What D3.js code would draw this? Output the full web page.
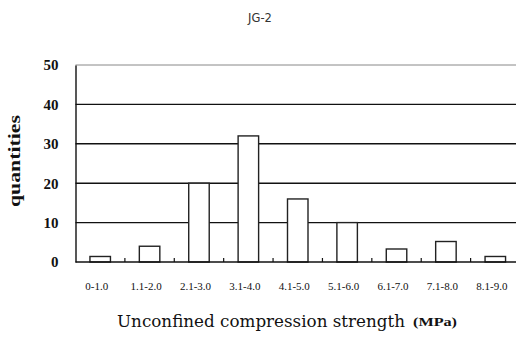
<!DOCTYPE html>
<html>
<head>
<meta charset="utf-8">
<script src="https://cdn.jsdelivr.net/npm/d3@7"></script>
<style>
  html, body { margin: 0; padding: 0; background: #fff; }
  svg { display: block; }
</style>
</head>
<body>
<svg id="chart" width="516" height="338"></svg>
<script>
// Strength classes (MPa) and number of specimens in each
const categories = ["0-1.0", "1.1-2.0", "2.1-3.0", "3.1-4.0", "4.1-5.0", "5.1-6.0", "6.1-7.0", "7.1-8.0", "8.1-9.0"];
const quantities = [1.4, 4, 20, 32, 16, 10, 3.3, 5.2, 1.4];
const yTicks = [0, 10, 20, 30, 40, 50];

const svg = d3.select("#chart");
const plotLeft = 75.5, plotRight = 520, plotTop = 65, plotBottom = 262;

const x = d3.scaleBand().domain(categories).range([plotLeft, plotRight])
  .paddingInner(0.585).paddingOuter(0.2925);
const y = d3.scaleLinear().domain([0, 50]).range([plotBottom, plotTop]);

// Title
svg.append("text")
  .attr("x", 260).attr("y", 22)
  .attr("text-anchor", "middle")
  .attr("font-family", "DejaVu Sans, sans-serif")
  .attr("font-size", 11.5)
  .attr("fill", "#333")
  .text("JG-2");

// Horizontal gridlines
svg.append("g").selectAll("line")
  .data(yTicks.filter(d => d > 0))
  .join("line")
  .attr("x1", plotLeft).attr("x2", 516)
  .attr("y1", d => y(d)).attr("y2", d => y(d))
  .attr("stroke", d => d === 50 ? "#888" : "#111")
  .attr("stroke-width", d => d === 50 ? 1 : 1.4);

// Bars
svg.append("g").selectAll("rect")
  .data(quantities)
  .join("rect")
  .attr("x", (d, i) => x(categories[i]))
  .attr("y", d => y(d))
  .attr("width", x.bandwidth())
  .attr("height", d => y(0) - y(d))
  .attr("fill", "#fff")
  .attr("stroke", "#222")
  .attr("stroke-width", 1.4);

// Y axis
const yAxis = d3.axisLeft(y).tickValues(yTicks).tickSize(0).tickPadding(0).tickFormat(d3.format("d"));
const gy = svg.append("g").attr("transform", `translate(${plotLeft},0)`).call(yAxis);
gy.select(".domain").attr("stroke", "#111").attr("stroke-width", 1.4);
gy.selectAll("text")
  .attr("x", -17)
  .attr("font-family", "Liberation Serif, serif")
  .attr("font-weight", "bold")
  .attr("font-size", 15)
  .attr("fill", "#111");

// X axis with short inward ticks at class boundaries
const gx = svg.append("g").attr("transform", `translate(0,${plotBottom})`);
gx.append("line").attr("x1", plotLeft).attr("x2", 516).attr("y1", 0).attr("y2", 0)
  .attr("stroke", "#111").attr("stroke-width", 1.4);
const step = x.step();
gx.selectAll("line.tick")
  .data(categories.slice(1))
  .join("line")
  .attr("class", "tick")
  .attr("x1", d => x(d) - x.paddingOuter() * step)
  .attr("x2", d => x(d) - x.paddingOuter() * step)
  .attr("y1", 0).attr("y2", -4)
  .attr("stroke", "#111").attr("stroke-width", 1.2);
gx.selectAll("text")
  .data(categories)
  .join("text")
  .attr("x", d => x(d) + x.bandwidth() / 2 - 3.5)
  .attr("y", 27.5)
  .attr("text-anchor", "middle")
  .attr("font-family", "Liberation Serif, serif")
  .attr("font-size", 11)
  .attr("fill", "#111")
  .text(d => d);

// Axis titles
svg.append("text")
  .attr("transform", `translate(20,161) rotate(-90)`)
  .attr("text-anchor", "middle")
  .attr("font-family", "Liberation Serif, serif")
  .attr("font-weight", "bold")
  .attr("font-size", 16)
  .attr("textLength", 92)
  .attr("lengthAdjust", "spacingAndGlyphs")
  .attr("fill", "#111")
  .text("quantities");

svg.append("text")
  .attr("x", 117).attr("y", 327)
  .attr("font-family", "DejaVu Serif, serif")
  .attr("font-size", 16.5)
  .attr("textLength", 288)
  .attr("lengthAdjust", "spacingAndGlyphs")
  .attr("fill", "#111")
  .text("Unconfined compression strength");
svg.append("text")
  .attr("x", 413).attr("y", 326)
  .attr("font-family", "Liberation Serif, serif")
  .attr("font-weight", "bold")
  .attr("font-size", 11.5)
  .attr("textLength", 44)
  .attr("lengthAdjust", "spacingAndGlyphs")
  .attr("fill", "#111")
  .text("(MPa)");
</script>
</body>
</html>
